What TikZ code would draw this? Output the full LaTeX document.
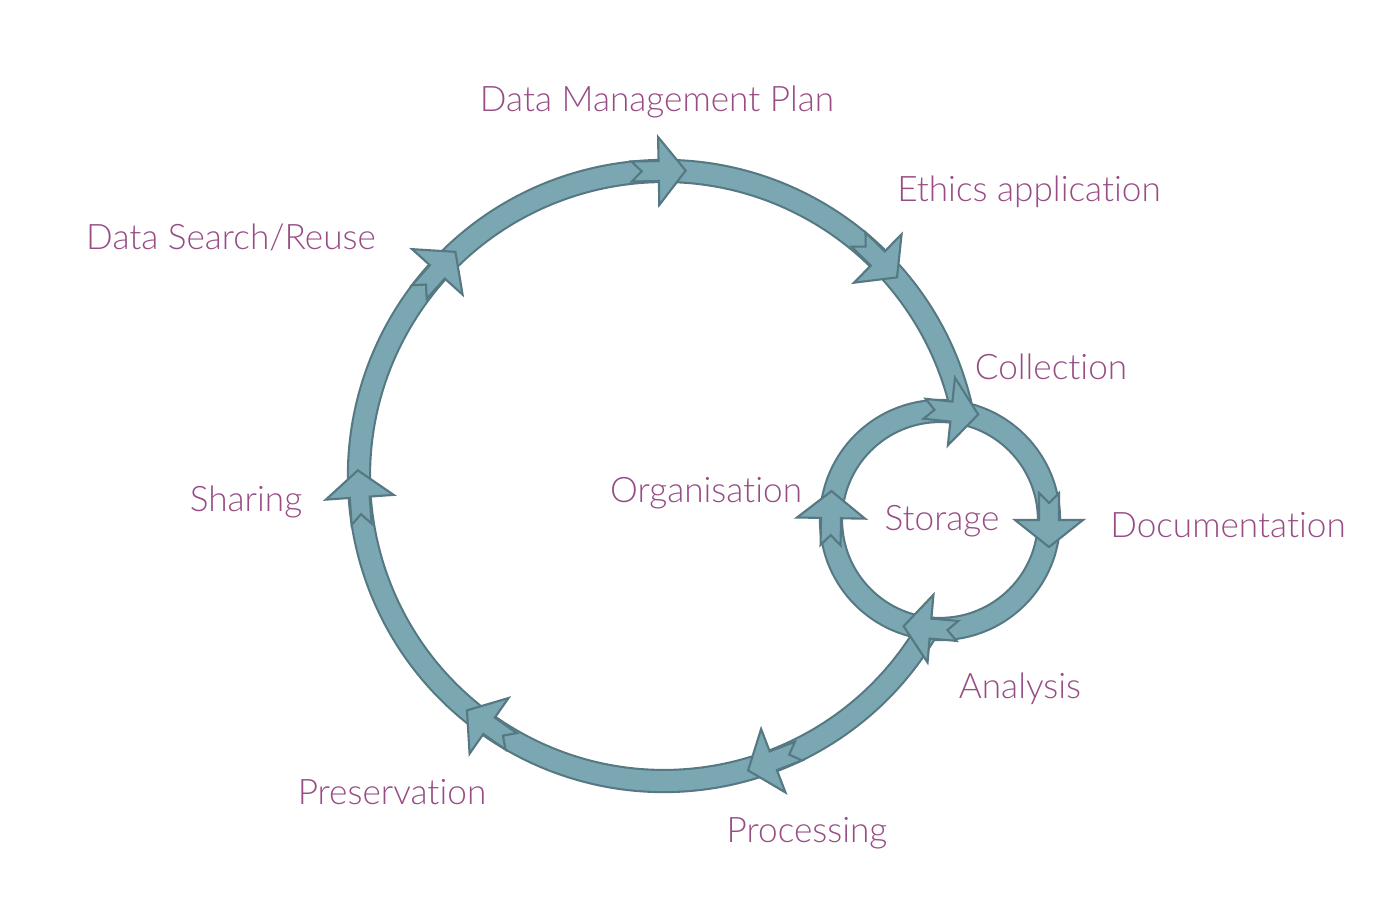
\documentclass[tikz,border=0pt]{standalone}
\usepackage{fontspec}
\setmainfont{Lato}[UprightFont=* Light,Ligatures=NoCommon]
\usetikzlibrary{positioning}
\definecolor{dcteal}{HTML}{7AA7B2}
\definecolor{dcedge}{HTML}{557882}
\definecolor{dcplum}{HTML}{974C84}
\tikzset{
  ringedge/.style={draw=dcedge,line width=1.2pt},
  ringfill/.style={fill=dcteal},
  stagehead/.style={draw=dcedge,fill=dcteal,line width=.6pt,line join=miter},
  stagelabel/.style={anchor=base,inner sep=0pt,text=dcplum,font=\fontsize{10}{12}\selectfont},
}
% notched block arrow sitting on a circle: {centre}{radius}{angle}
\newcommand{\stagearrow}[3]{%
  \begin{scope}[shift={#1},rotate=#3]
    \draw[stagehead] (#2-10,27) -- (#2,17) -- (#2+10,27) -- (#2+10,0) -- (#2+34,0)
      -- (#2,-27) -- (#2-34,0) -- (#2-10,0) -- cycle;
  \end{scope}}
\begin{document}
\begin{tikzpicture}[x=0.01cm,y=0.01cm]
  \useasboundingbox (0,0) rectangle (1397,906);
  \coordinate (big) at (664,430);
  \coordinate (small) at (940,386);
  % bands: outlines first, then fills, so the two rings merge
  \begin{scope}[shift={(big)}]
    \path[ringedge] (11.75:315) arc[start angle=11.75,end angle=329.7,radius=315]
      -- (329.7:295) arc[start angle=329.7,end angle=11.75,radius=295] -- cycle;
  \end{scope}
  \path[ringedge] (small) circle[radius=119] (small) circle[radius=99];
  \begin{scope}[shift={(big)}]
    \path[ringfill] (11.75:315) arc[start angle=11.75,end angle=329.7,radius=315]
      -- (329.7:295) arc[start angle=329.7,end angle=11.75,radius=295] -- cycle;
  \end{scope}
  \path[ringfill,even odd rule] (small) circle[radius=119] (small) circle[radius=99];
  % stage arrows, big cycle
  \foreach \ang in {91,45.5,138,184,235,291} {
    \stagearrow{(big)}{305}{\ang}
  }
  % stage arrows, inner cycle
  \foreach \ang in {84,0,265,179} {
    \stagearrow{(small)}{109}{\ang}
  }
  % labels
  \node[stagelabel] (plan) at (657,794) {Data Management Plan};
  \node[stagelabel] (ethics) at (1029,704) {Ethics application};
  \node[stagelabel] (reuse) at (231,656) {Data Search/Reuse};
  \node[stagelabel] (collect) at (1051,526) {Collection};
  \node[stagelabel] (organ) at (706,403) {Organisation};
  \node[stagelabel] (store) at (942,375) {Storage};
  \node[stagelabel] (docu) at (1228,368) {Documentation};
  \node[stagelabel] (share) at (246,394) {Sharing};
  \node[stagelabel] (analys) at (1020,207) {Analysis};
  \node[stagelabel] (preserve) at (392,101) {Preservation};
  \node[stagelabel] (process) at (807,64) {Processing};
\end{tikzpicture}
\end{document}
